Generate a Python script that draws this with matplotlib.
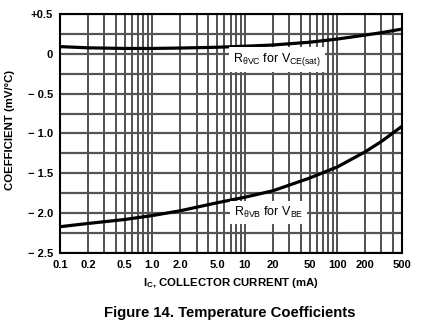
import numpy as np
import matplotlib
matplotlib.use('Agg')
import matplotlib.pyplot as plt

plt.rcParams['font.family'] = ['Liberation Sans', 'DejaVu Sans']
plt.rcParams['mathtext.fontset'] = 'custom'
plt.rcParams['mathtext.rm'] = 'Liberation Sans'

# Courbes
ic = [0.1, 0.2, 0.5, 1, 2, 5, 10, 20, 50, 100, 200, 300, 500]
coef_vce = [0.09, 0.075, 0.067, 0.067, 0.072, 0.082, 0.095, 0.11, 0.145, 0.185, 0.235, 0.265, 0.31]
coef_vbe = [-2.17, -2.13, -2.08, -2.03, -1.97, -1.87, -1.80, -1.72, -1.56, -1.42, -1.23, -1.10, -0.91]

xtick_vals = [0.1, 0.2, 0.5, 1, 2, 5, 10, 20, 50, 100, 200, 500]
xtick_labels = ['0.1', '0.2', '0.5', '1.0', '2.0', '5.0', '10', '20', '50', '100', '200', '500']
ytick_vals = [0.5, 0, -0.5, -1.0, -1.5, -2.0, -2.5]
ytick_labels = ['+0.5', '0', '\u2212 0.5', '\u2212 1.0', '\u2212 1.5', '\u2212 2.0', '\u2212 2.5']

fig = plt.figure(figsize=(4.36, 3.32), dpi=100)
ax = fig.add_axes([0.1376, 0.238, 0.7844, 0.72])

ax.set_xscale('log')
ax.set_xlim(0.1, 500)
ax.set_ylim(-2.5, 0.5)

# grille
minor_x = [k * 10.0**n for n in range(-1, 3) for k in range(1, 10)]
minor_x = [v for v in minor_x if v <= 500]
for v in minor_x:
    ax.axvline(v, color='#222222', lw=1.1, zorder=1)
for v in np.arange(-2.5, 0.51, 0.25):
    ax.axhline(v, color='#555555', lw=1.6, zorder=1)

ax.plot(ic, coef_vce, color='black', lw=2.3, zorder=3)
ax.plot(ic, coef_vbe, color='black', lw=2.3, zorder=3)

ax.set_xticks(xtick_vals)
ax.set_xticklabels(xtick_labels)
ax.xaxis.set_minor_locator(matplotlib.ticker.NullLocator())
ax.set_yticks(ytick_vals)
ax.set_yticklabels(ytick_labels)
ax.tick_params(length=0, labelsize=8, pad=5)
for lbl in ax.get_xticklabels() + ax.get_yticklabels():
    lbl.set_fontweight('bold')

for s in ax.spines.values():
    s.set_linewidth(1.5)
    s.set_zorder(4)

box = dict(facecolor='white', edgecolor='none', pad=3)
ax.text(22, -0.07, r'R$_{\mathregular{\theta VC}}$ for V$_{\mathregular{CE(sat)}}$', ha='center', va='center',
        fontsize=9, bbox=box, zorder=5)
ax.text(18, -1.99, r'R$_{\mathregular{\theta VB}}$ for V$_{\mathregular{BE}}$', ha='center', va='center',
        fontsize=9, bbox=box, zorder=5)

ax.set_xlabel(r'I$_{\mathregular{C}}$, COLLECTOR CURRENT (mA)', fontsize=8.2, fontweight='bold')
ax.set_ylabel('COEFFICIENT (mV/\u00b0C)', fontsize=8.2, fontweight='bold')
ax.xaxis.set_label_coords(0.4985, -0.1255)
ax.yaxis.set_label_coords(-0.145, 0.513)
ax.xaxis.label.set_va('center')
ax.yaxis.label.set_va('center')

fig.text(0.528, 0.057, 'Figure 14. Temperature Coefficients', ha='center', va='center',
         fontsize=10.7, fontweight='bold')

fig.savefig('out.png', dpi=100)
